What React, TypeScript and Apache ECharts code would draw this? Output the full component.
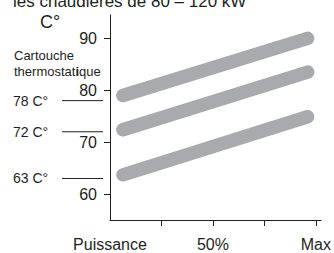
import React, { useEffect, useRef } from "react";
import * as echarts from "echarts";

const titleText = "les chaudières de 80 – 120 kW";
const yUnit = "C°";
const yTicks = [60, 70, 80, 90];
const xTicks = [1, 2, 3, 4];
const xLabelValues = [0, 2, 4];
const xLabelNames: Record<number, string> = { 0: "Puissance", 2: "50%", 4: "Max" };
const lineStartX = 0.25;
const lineEndX = 3.84;
const seriesStart = [79, 72.4, 63.7];
const seriesEnd = [90, 83.5, 74.9];
const refTemps = [78, 72, 63];
const refLabels = ["78 C°", "72 C°", "63 C°"];

const INK = "#231f20";
const GRAY = "#a8aaad";
const FONT = "'Liberation Sans', Arial, Helvetica, sans-serif";

export default function App() {
  const ref = useRef<HTMLDivElement>(null);
  useEffect(() => {
    if (!ref.current) return;
    const chart = echarts.init(ref.current, undefined, { renderer: "svg" });
    const series = seriesStart.map((s, i) => ({
      type: "line",
      data: [
        [lineStartX, s],
        [lineEndX, seriesEnd[i]],
      ],
      symbol: "none",
      silent: true,
      lineStyle: { color: GRAY, width: 13.5, cap: "round" },
    }));
    chart.setOption({
      animation: false,
      textStyle: { fontFamily: FONT },
      grid: { left: 110, right: 10, top: 15, bottom: 33 },
      xAxis: {
        type: "value",
        min: 0,
        max: 4.1,
        splitLine: { show: false },
        axisLine: { lineStyle: { color: INK, width: 1 } },
        axisTick: { show: true, customValues: xTicks, length: 6, lineStyle: { color: INK } },
        axisLabel: {
          customValues: xLabelValues,
          formatter: (v: number) => xLabelNames[Math.round(v)] ?? "",
          color: INK,
          fontSize: 16,
          fontFamily: FONT,
          margin: 16,
        },
      },
      yAxis: {
        type: "value",
        min: 55,
        max: 94.5,
        splitLine: { show: false },
        axisLine: { show: true, lineStyle: { color: INK, width: 1 } },
        axisTick: { show: true, customValues: yTicks, length: 6, lineStyle: { color: INK } },
        axisLabel: {
          customValues: yTicks,
          color: INK,
          fontSize: 16,
          fontFamily: FONT,
          margin: 13,
        },
      },
      series,
    });
    const graphics: any[] = [
      {
        type: "text",
        x: 13,
        y: 1,
        style: { text: titleText, fill: INK, font: `17px ${FONT}`, textVerticalAlign: "middle" },
      },
      {
        type: "text",
        x: 50,
        y: 21.5,
        style: { text: yUnit, fill: INK, font: `18px ${FONT}`, textAlign: "center", textVerticalAlign: "middle" },
      },
      {
        type: "text",
        x: 14,
        y: 47,
        style: {
          text: "Cartouche\nthermostat{b|i}que",
          fill: INK,
          fontSize: 13,
          fontFamily: FONT,
          lineHeight: 16,
          rich: { b: { fontWeight: "bold", fontSize: 13, fontFamily: FONT, lineHeight: 16, fill: INK } },
          textVerticalAlign: "top",
        },
      },
    ];
    refTemps.forEach((t, i) => {
      const y = chart.convertToPixel({ yAxisIndex: 0 }, t) as number;
      graphics.push({
        type: "line",
        shape: { x1: 62, y1: y, x2: 103, y2: y },
        style: { stroke: INK, lineWidth: 1 },
      });
      graphics.push({
        type: "text",
        x: 13,
        y: y,
        style: { text: refLabels[i], fill: INK, font: `14px ${FONT}`, textVerticalAlign: "middle" },
      });
    });
    chart.setOption({ graphic: graphics });
    return () => chart.dispose();
  }, []);
  return (
    <div
      ref={ref}
      style={{ position: "fixed", left: 0, top: 0, width: 334, height: 253, background: "#fff" }}
    />
  );
}
